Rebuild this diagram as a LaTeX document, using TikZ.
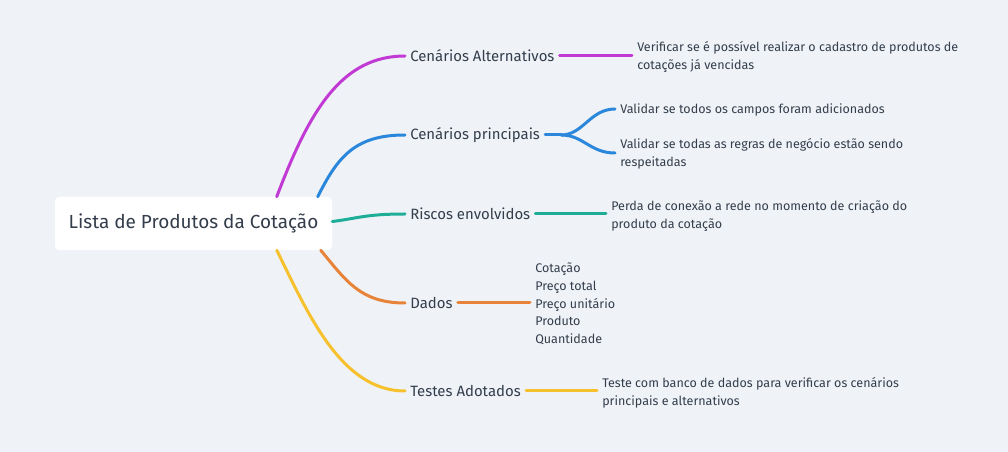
\documentclass[tikz,border=0pt]{standalone}
\usepackage{fontspec}
\setmainfont{Fira Sans}
\usetikzlibrary{calc}
\definecolor{bgcol}{HTML}{EFF3F7}
\definecolor{inkcol}{HTML}{333D4B}
\definecolor{altcol}{HTML}{C23AD4}
\definecolor{princol}{HTML}{2B87DB}
\definecolor{riscol}{HTML}{1EAE98}
\definecolor{dadcol}{HTML}{E8843A}
\definecolor{tescol}{HTML}{F7C12E}

\begin{document}
\begin{tikzpicture}[
    x=0.75pt, y=-0.75pt,
    rootbox/.style={fill=white, rounded corners=3pt, minimum width=207.75pt, minimum height=39.75pt, font=\fontsize{14.2}{17}\selectfont, text=inkcol},
    topic/.style={anchor=west, inner xsep=3.75pt, font=\fontsize{11.2}{13}\selectfont, text=inkcol},
    detail/.style={anchor=west, inner xsep=3.75pt, align=left, font=\fontsize{9.4}{13.3}\selectfont, text=inkcol},
    branch/.style={line width=2.25pt, line cap=round}
  ]
    \useasboundingbox[fill=bgcol] (0,0) rectangle (1008,452);

    \node[rootbox] (root) at (193.5,223.5) {Lista de Produtos da Cotação};

    \node[topic] (alt) at (405,56) {Cenários Alternativos};
    \node[topic] (princ) at (405,135) {Cenários principais};
    \node[topic] (risco) at (405,214) {Riscos envolvidos};
    \node[topic] (dados) at (405,303) {Dados};
    \node[topic] (testes) at (405,391) {Testes Adotados};

    \node[detail] (altd) at (632,57) {Verificar se é possível realizar o cadastro de produtos de\\cotações já vencidas};
    \node[detail] (princa) at (615,110) {Validar se todos os campos foram adicionados};
    \node[detail] (princb) at (615,154) {Validar se todas as regras de negócio estão sendo\\respeitadas};
    \node[detail] (riscod) at (606,216) {Perda de conexão a rede no momento de criação do\\produto da cotação};
    \node[detail] (dadosd) at (530,304) {Cotação\\Preço total\\Preço unitário\\Produto\\Quantidade};
    \node[detail] (testesd) at (597,392.5) {Teste com banco de dados para verificar os cenários\\principais e alternativos};

    % root to topics
    \draw[branch, altcol] ($(root.north west)+(222,0)$) .. controls +(33,-87) and +(-63,0) .. (alt.west);
    \draw[branch, princol] ($(root.north west)+(263,0)$) .. controls +(20,-40) and +(-50,0) .. (princ.west);
    \draw[branch, riscol] ($(root.east)+(0,-2)$) .. controls +(25,-3) and +(-40,0) .. (risco.west);
    \draw[branch, dadcol] ($(root.south west)+(266,0)$) .. controls +(25,30) and +(-45,0) .. (dados.west);
    \draw[branch, tescol] ($(root.south west)+(222,0)$) .. controls +(30,60) and +(-65,0) .. (testes.west);

    % topics to details
    \draw[branch, altcol] (alt.east) -- (alt.east -| altd.west);
    \coordinate (fork) at ($(princ.east)+(16,0)$);
    \draw[branch, princol] (princ.east) -- (fork);
    \draw[branch, princol] (fork) .. controls +(22,0) and +(-25,0) .. ($(princa.west)+(0,-1)$);
    \draw[branch, princol] (fork) .. controls +(22,0) and +(-25,0) .. ($(princb.west)+(0,-1)$);
    \draw[branch, riscol] (risco.east) -- (risco.east -| riscod.west);
    \draw[branch, dadcol] (dados.east) -- (dados.east -| dadosd.west);
    \draw[branch, tescol] (testes.east) -- (testes.east -| testesd.west);
\end{tikzpicture}
\end{document}
